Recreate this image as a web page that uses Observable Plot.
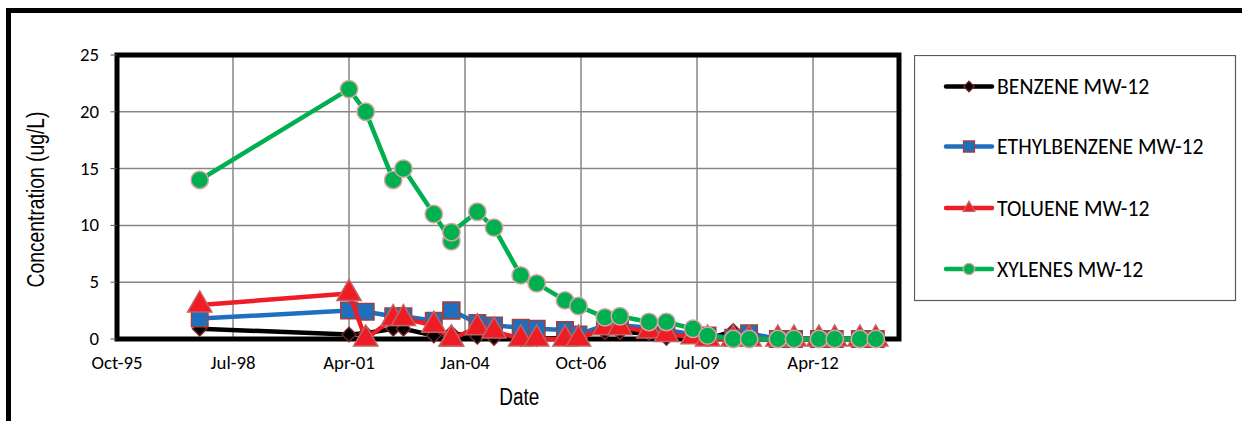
<!DOCTYPE html>
<html><head><meta charset="utf-8">
<script src="https://cdn.jsdelivr.net/npm/d3@7"></script>
<script src="https://cdn.jsdelivr.net/npm/@observablehq/plot@0.6"></script>
<style>
body{margin:0;background:#fff;}
#wrap{position:relative;width:1242px;height:421px;overflow:hidden;background:#fff;}
#outer{position:absolute;left:6px;top:8px;width:1400px;height:600px;border:5px solid #000;box-sizing:border-box;}
#chart{position:absolute;left:0;top:0;}
#legend{position:absolute;left:914px;top:55px;}
</style></head><body>
<div id="wrap"><div id="outer"></div><div id="chart"></div><div id="legend"></div></div>
<script>
// ---- data ----
const sampleDates = ["1997-10-10","2001-04-19","2001-09-10","2002-05-05","2002-08-01","2003-04-20","2003-09-18","2003-09-19",
  "2004-04-29","2004-09-20","2005-05-08","2005-09-23","2006-05-25","2006-09-18","2007-05-04","2007-09-10",
  "2008-05-18","2008-10-15","2009-06-02","2009-10-05","2010-05-14","2010-09-28","2011-06-03","2011-10-20",
  "2012-05-22","2012-10-05","2013-05-10","2013-09-24"];
const benzene      = [0.9,0.4,0.5,0.9,0.9,0.3,0.5,0.5,0.2,0.1,0,0,0.1,0.5,0.6,0.6,0.5,0.1,0.3,0,0.7,0,0,0,0,0,0,0];
const ethylbenzene = [1.8,2.5,2.4,2.0,2.0,1.6,2.5,2.5,1.4,1.2,1.0,0.9,0.8,0.4,1.2,1.2,1.0,0.8,0.4,0.3,0.1,0.5,0,0,0,0,0,0];
const toluene      = [3.0,4.0,0,1.8,1.8,1.2,0,0,1.0,0.7,0,0,0,0,1.0,1.0,0.7,0.4,0.2,0,0,0,0,0,0,0,0,0];
const xylenes      = [14,22,20,14,15,11,8.6,9.4,11.2,9.8,5.6,4.9,3.4,2.9,1.9,2.0,1.5,1.5,0.9,0.3,0,0,0,0,0,0,0,0];
const seriesNames = ["BENZENE MW-12","ETHYLBENZENE MW-12","TOLUENE MW-12","XYLENES MW-12"];
const tickDates  = ["1995-10-28","1998-07-24","2001-04-19","2004-01-14","2006-10-10","2009-07-06","2012-04-01"];
const tickLabels = ["Oct-95","Jul-98","Apr-01","Jan-04","Oct-06","Jul-09","Apr-12"];
const yTicks = [0,5,10,15,20,25];
const xDomain = ["1995-10-28","2014-04-12"];

// ---- styles ----
const styles = [
  {color:"#000000", symbol:"diamond2", fill:"#000000", stroke:"#7b2424", r:6.5},
  {color:"#1F6FBF", symbol:"square",   fill:"#1F6FBF", stroke:"#A0403F", r:9.3},
  {color:"#EE1C25", symbol:"triangle", fill:"#EE1C25", stroke:"#C46262", r:9},
  {color:"#00B050", symbol:"circle",   fill:"#00B050", stroke:"#D9A3A3", r:8.7}
];
const allValues = [benzene, ethylbenzene, toluene, xylenes];
const series = allValues.map((vals, i) => sampleDates.map((d, j) => ({date: new Date(d), value: vals[j], series: seriesNames[i]})));
const tickDateObjs = tickDates.map(d => new Date(d));

const marks = [
  Plot.gridY({ticks: yTicks, stroke: "#878787", strokeOpacity: 1, strokeWidth: 1.5}),
  Plot.gridX({ticks: tickDateObjs, stroke: "#878787", strokeOpacity: 1, strokeWidth: 1.5}),
  Plot.frame({stroke: "#000", strokeWidth: 5}),
  Plot.axisY({ticks: yTicks, tickSize: 6, tickPadding: 12, label: null, stroke: "#555"}),
  Plot.axisX({ticks: tickDateObjs, tickSize: 0, tickPadding: 17, label: null,
    tickFormat: d => tickLabels[tickDateObjs.findIndex(t => +t === +d)]})
];
series.forEach((rows, i) => {
  const s = styles[i];
  marks.push(Plot.line(rows, {x: "date", y: "value", stroke: s.color, strokeWidth: 4.5, strokeLinejoin: "round"}));
  marks.push(Plot.dot(rows, {x: "date", y: "value", symbol: () => s.symbol, fill: s.fill, stroke: s.stroke, strokeWidth: 1.5, r: s.r}));
});

const chart = Plot.plot({
  width: 1242, height: 421,
  marginLeft: 116.5, marginRight: 343.5, marginTop: 54.5, marginBottom: 82.5,
  x: {type: "utc", domain: xDomain.map(d => new Date(d))},
  y: {domain: [0, 25]},
  symbol: {type: "identity"},
  style: {background: "none", overflow: "visible", fontFamily: "Carlito, Calibri, Lato, sans-serif", fontSize: "18.8px", color: "#000"},
  marks
});
document.getElementById("chart").appendChild(chart);

const svg = d3.select(chart);
svg.append("text")
  .attr("transform", "translate(44.3,199.5) rotate(-90)")
  .attr("text-anchor", "middle")
  .attr("font-family", "'Liberation Sans Narrow','Arial Narrow','Liberation Sans',Arial,sans-serif")
  .attr("font-size", 23.5)
  .attr("textLength", 176).attr("lengthAdjust", "spacingAndGlyphs")
  .attr("fill", "#000")
  .text("Concentration (ug/L)");
svg.append("text")
  .attr("x", 519.3).attr("y", 405)
  .attr("text-anchor", "middle")
  .attr("font-family", "'Liberation Sans Narrow','Arial Narrow','Liberation Sans',Arial,sans-serif")
  .attr("font-size", 23.5)
  .attr("textLength", 40).attr("lengthAdjust", "spacingAndGlyphs")
  .attr("fill", "#000")
  .text("Date");

// ---- legend ----
const lg = d3.select("#legend").append("svg").attr("width", 323).attr("height", 247);
lg.append("rect").attr("x", 0.5).attr("y", 0.5).attr("width", 321).attr("height", 245)
  .attr("fill", "#fff").attr("stroke", "#595959").attr("stroke-width", 1.2);
const legendY = [31.5, 91.5, 153, 214];
const legendSym = {diamond2: d3.symbolDiamond2, square: d3.symbolSquare, triangle: d3.symbolTriangle2, circle: d3.symbolCircle};
const legendSize = [70, 120, 95, 100];
seriesNames.forEach((name, i) => {
  const s = styles[i];
  const g = lg.append("g").attr("transform", `translate(0,${legendY[i]})`);
  g.append("line").attr("x1", 32).attr("x2", 78).attr("stroke", s.color).attr("stroke-width", 4.5).attr("stroke-linecap", "round");
  g.append("path").attr("transform", "translate(55,0)").attr("d", d3.symbol(legendSym[s.symbol], legendSize[i])())
    .attr("fill", s.fill).attr("stroke", s.stroke).attr("stroke-width", 1.3);
  g.append("text").attr("x", 83).attr("dy", "0.35em")
    .attr("font-family", "Carlito, Calibri, Lato, sans-serif").attr("font-size", 21.7).attr("fill", "#000")
    .text(name);
});
</script>
</body></html>
